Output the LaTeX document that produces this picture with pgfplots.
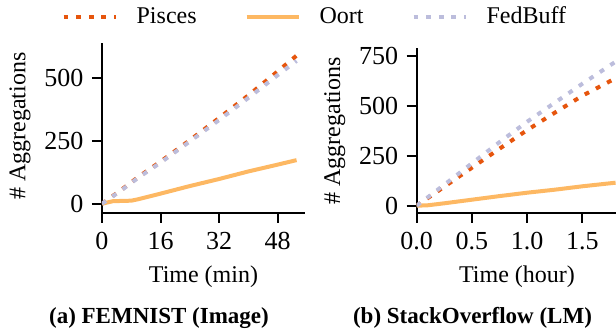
\documentclass[border=0pt]{standalone}
\usepackage{fontspec}
\setmainfont{Liberation Serif}
\usepackage{pgfplots}
\pgfplotsset{compat=1.18}
\definecolor{pisces}{HTML}{E6550D}
\definecolor{oort}{HTML}{FDB863}
\definecolor{fedbuff}{HTML}{BCBDDC}
\pgfplotsset{
  mystyle/.style={
    scale only axis,
    axis lines=left,
    axis line style={-, line width=1pt},
    every tick/.style={line width=1pt, black},
    tick align=outside,
    major tick length=5pt,
    tick pos=left,
    /pgf/number format/assume math mode=true,
    tick label style={font=\fontsize{13}{13}\selectfont},
    xticklabel style={yshift=-1.2pt},
    yticklabel style={xshift=-0.8pt},
    clip=true,
  },
  pis/.style={pisces, line width=2pt, dash pattern=on 2.4pt off 3.9pt},
  oor/.style={oort, line width=2pt},
  fed/.style={fedbuff, line width=2pt, dash pattern=on 2.4pt off 3.9pt},
}
\begin{document}
\begin{tikzpicture}
\useasboundingbox (0,0) rectangle (308pt,167.5pt);
\begin{axis}[mystyle,
  at={(51pt,61.15pt)}, anchor=south west,
  width=101.5pt, height=84.85pt,
  xmin=0, xmax=55.5, ymin=-35.7, ymax=638,
  xtick={0,16,32,48}, ytick={0,250,500},
  xlabel={Time (min)}, ylabel={\# Aggregations},
  every axis x label/.style={at={(axis description cs:0.5,-0.375)}, anchor=center, font=\fontsize{12}{12}\selectfont},
  every axis y label/.style={at={(axis description cs:-0.404,0.51)}, anchor=center, rotate=90, font=\fontsize{12}{12}\selectfont},
  legend columns=3,
  legend style={at={(axis description cs:1.044,1.155)}, anchor=center, draw=none, fill=none,
    font=\fontsize{12}{12}\selectfont,
    nodes={inner sep=0pt},
    /tikz/every odd column/.append style={column sep=9.5pt},
    /tikz/every even column/.append style={column sep=24pt}},
  legend image code/.code={\draw[#1] (0pt,0pt) -- (26pt,0pt);},
]
\addplot[pis] coordinates {(0,0) (5,52) (10,107) (16,167) (24,252) (32,340) (40,430) (48,525) (53.2,588)};
\addlegendentry{Pisces}
\addplot[oor] coordinates {(0,0) (3,10) (8,12) (10,18) (16,40) (24,70) (32,98) (40,128) (48,155) (53.2,173)};
\addlegendentry{Oort}
\addplot[fed] coordinates {(0,0) (5,50) (10,104) (16,163) (24,247) (32,332) (40,420) (48,510) (53.2,567)};
\addlegendentry{FedBuff}
\end{axis}
\begin{axis}[mystyle,
  at={(208.35pt,61.15pt)}, anchor=south west,
  width=100pt, height=82.2pt,
  xmin=0, xmax=1.81, ymin=-35, ymax=787,
  xtick={0,0.5,1,1.5}, xticklabels={0.0,0.5,1.0,1.5}, ytick={0,250,500,750},
  xlabel={Time (hour)}, ylabel={\# Aggregations},
  every axis x label/.style={at={(axis description cs:0.5015,-0.387)}, anchor=center, font=\fontsize{12}{12}\selectfont},
  every axis y label/.style={at={(axis description cs:-0.41,0.498)}, anchor=center, rotate=90, font=\fontsize{12}{12}\selectfont},
]
\addplot[pis] coordinates {(0,0) (0.1,38) (0.25,95) (0.5,190) (0.75,285) (1.0,378) (1.25,465) (1.5,550) (1.8,637)};
\addplot[oor] coordinates {(0,0) (0.1,2) (0.25,12) (0.5,30) (0.75,48) (1.0,65) (1.25,80) (1.5,97) (1.8,115)};
\addplot[fed] coordinates {(0,0) (0.1,42) (0.25,105) (0.5,212) (0.75,318) (1.0,420) (1.25,515) (1.5,610) (1.8,720)};
\end{axis}
\node[font=\bfseries\fontsize{11.5}{11.5}\selectfont] at (79.5pt,8.65pt) {(a) FEMNIST (Image)};
\node[font=\bfseries\fontsize{11.5}{11.5}\selectfont] at (236.25pt,8.65pt) {(b) StackOverflow (LM)};
\end{tikzpicture}
\end{document}
